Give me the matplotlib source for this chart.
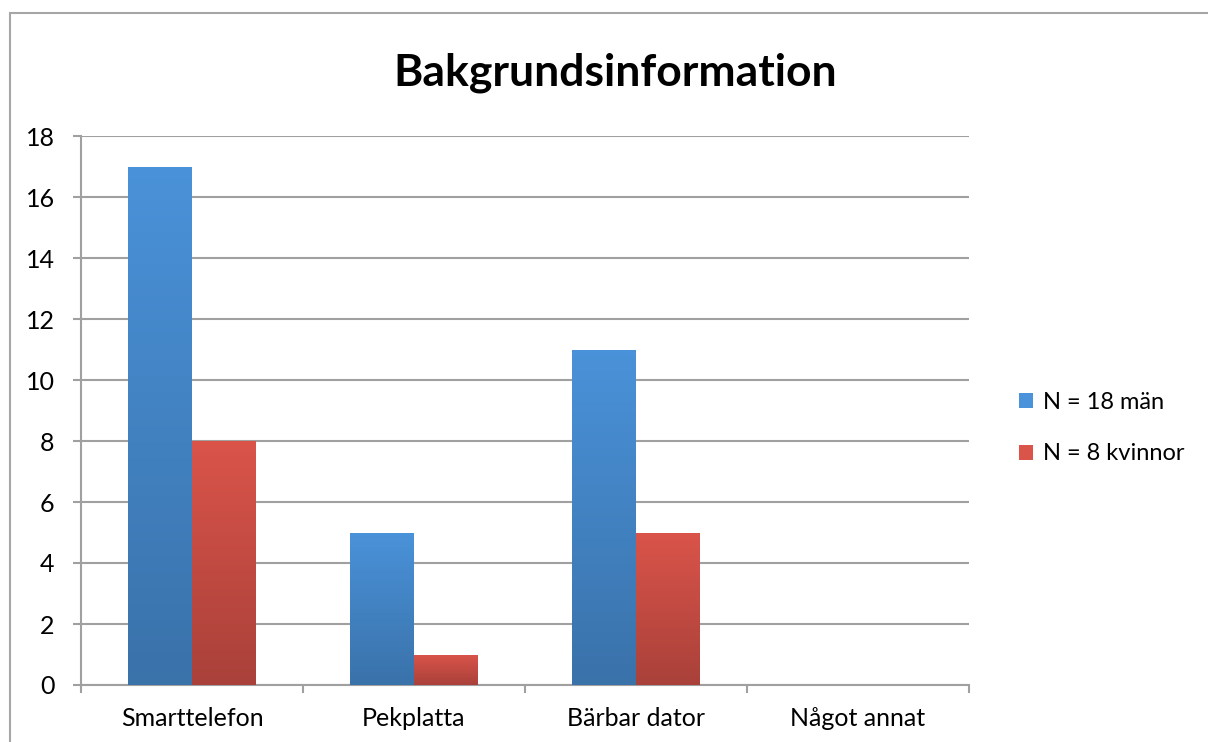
import matplotlib.pyplot as plt
import matplotlib.colors as mcolors
from matplotlib.patches import Rectangle
import numpy as np

kategorier = ['Smarttelefon', 'Pekplatta', 'Bärbar dator', 'Något annat']
man = [17, 5, 11, 0]
kvinnor = [8, 1, 5, 0]
serier = ['N = 18 män', 'N = 8 kvinnor']
yticks = [0, 2, 4, 6, 8, 10, 12, 14, 16, 18]

# gradient top -> bottom, Excel style
farger = [('#4A92D9', '#3A72AA'), ('#DA544A', '#A9413A')]

plt.rcParams['font.family'] = ['Lato', 'DejaVu Sans']

fig = plt.figure(figsize=(12.08, 7.42), dpi=100)
# frame around the chart (only left and top visible in the crop)
fig.patches.append(Rectangle((10 / 1208, -0.05), 1.1, 1.05 - 13 / 742,
                             transform=fig.transFigure, fill=False,
                             edgecolor='#a6a6a6', linewidth=1.5))
ax = fig.add_axes([81 / 1208, 57 / 742, 888 / 1208, 549 / 742])

x = np.arange(len(kategorier))
w = 0.288
for i, (vals, namn) in enumerate(zip([man, kvinnor], serier)):
    top, bot = farger[i]
    bars = ax.bar(x + (i - 0.5) * w, vals, w, color=top, label=namn, zorder=3)
    cmap = mcolors.LinearSegmentedColormap.from_list('g%d' % i, [bot, top])
    for b in bars:
        if b.get_height() <= 0:
            continue
        x0, y0 = b.get_x(), b.get_y()
        x1, y1 = x0 + b.get_width(), y0 + b.get_height()
        grad = np.linspace(0, 1, 256).reshape(-1, 1)
        im = ax.imshow(grad, extent=(x0, x1, y0, y1), origin='lower', cmap=cmap,
                       aspect='auto', zorder=4)
        im.set_clip_path(b)

ax.set_xlim(-0.5, len(kategorier) - 0.5)
ax.set_ylim(0, 18)
ax.set_yticks(yticks)
ax.set_yticklabels([str(v) for v in yticks], fontsize=18)
ax.yaxis.grid(True, color='#a0a0a0', linewidth=1.5, zorder=0)
ax.tick_params(axis='y', length=6, width=1.5, color='#a0a0a0', pad=13)

ax.set_xticks(x)
ax.set_xticklabels(kategorier, fontsize=18)
ax.set_xticks(np.arange(len(kategorier) + 1) - 0.5, minor=True)
ax.tick_params(axis='x', which='major', length=0, pad=16)
ax.tick_params(axis='x', which='minor', length=6, width=1.5, color='#a0a0a0')

for s in ['top', 'right']:
    ax.spines[s].set_visible(False)
for s in ['left', 'bottom']:
    ax.spines[s].set_color('#a0a0a0')
    ax.spines[s].set_linewidth(1.5)

fig.text(615 / 1208, 1 - 73 / 742, 'Bakgrundsinformation', ha='center', va='center',
         fontsize=32, fontweight='bold')

ax.legend(loc='center left', bbox_to_anchor=(1.046, 0.468), frameon=False, fontsize=17,
          borderaxespad=0, handlelength=0.6, handleheight=0.6, handletextpad=0.4,
          labelspacing=1.3)

plt.savefig('out.png', dpi=100)
